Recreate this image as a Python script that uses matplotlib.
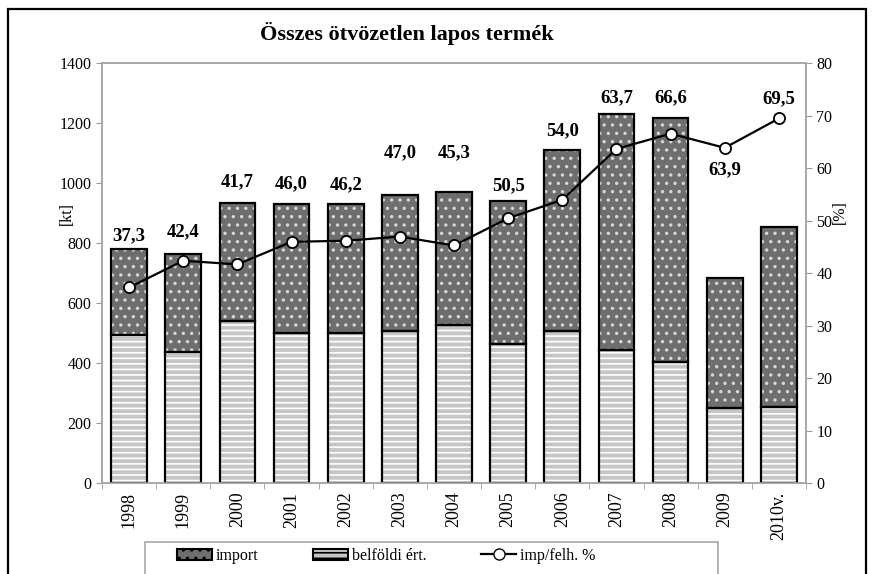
import numpy as np
import matplotlib
matplotlib.use('Agg')
import matplotlib.pyplot as plt
from matplotlib.patches import Rectangle, Patch
from matplotlib.lines import Line2D

plt.rcParams['font.family'] = ['Liberation Serif', 'DejaVu Serif']
plt.rcParams['hatch.linewidth'] = 1.2

years = ['1998', '1999', '2000', '2001', '2002', '2003', '2004',
         '2005', '2006', '2007', '2008', '2009', '2010v.']
belfoldi = [494, 437, 542, 502, 500, 508, 528, 464, 508, 444, 405, 250, 255]
total = [782, 763, 935, 930, 930, 961, 971, 941, 1111, 1230, 1219, 685, 855]
imp_pct = [37.3, 42.4, 41.7, 46.0, 46.2, 47.0, 45.3, 50.5, 54.0, 63.7, 66.6, 63.9, 69.5]
label_off = [3, 10, 9, 9, 8, 24, 22, 5, 8, 6, 8, 10, 8]

imports = [t - b for t, b in zip(total, belfoldi)]
x = np.arange(len(years))

fig = plt.figure(figsize=(8.74, 5.74), dpi=100)
ax = fig.add_axes([0.1167, 0.158, 0.8055, 0.7317])
ax2 = ax.twinx()

w = 0.66
# filled + hatched layer, then black outline on top
ax.bar(x, belfoldi, w, color='#c6c6c6', edgecolor='white', hatch='---', linewidth=0, zorder=2)
ax.bar(x, imports, w, bottom=belfoldi, color='#6e6e6e', edgecolor='#d8d8d8', hatch='..', linewidth=0, zorder=2)
ax.bar(x, belfoldi, w, fill=False, edgecolor='black', linewidth=1.6, zorder=3)
ax.bar(x, imports, w, bottom=belfoldi, fill=False, edgecolor='black', linewidth=1.6, zorder=3)

ax.set_xlim(-0.5, len(years) - 0.5)
ax.set_ylim(0, 1400)
ax.set_yticks(range(0, 1401, 200))
ax.set_xticks(x)
ax.set_xticklabels(years, rotation=90, fontsize=13)
ax.tick_params(axis='y', labelsize=11.5, length=4, color='#999999', direction='out')
ax.tick_params(axis='x', length=0, pad=6)
ax.set_xticks(np.arange(-0.5, len(years), 1), minor=True)
ax.tick_params(axis='x', which='minor', length=4, color='#999999')

ax2.plot(x, imp_pct, color='black', linewidth=1.6, marker='o', markersize=8,
         markerfacecolor='white', markeredgecolor='black', markeredgewidth=1.3, zorder=5)
ax2.set_ylim(0, 80)
ax2.set_yticks(range(0, 81, 10))
ax2.tick_params(axis='y', labelsize=11.5, length=4, color='#999999', direction='out')

for a in (ax, ax2):
    for s in a.spines.values():
        s.set_color('#a8a8a8')
        s.set_linewidth(1.2)
ax.set_zorder(1)
ax2.set_zorder(2)
ax.patch.set_visible(False)

# data labels: above the bar / point, 2009 below its point
for i, p in enumerate(imp_pct):
    y_top = max(total[i], p * 1400 / 80)
    txt = f'{p:.1f}'.replace('.', ',')
    if years[i] == '2009':
        ax.annotate(txt, (x[i], p * 1400 / 80), xytext=(0, -label_off[i]),
                    textcoords='offset points', ha='center', va='top',
                    fontsize=13.5, fontweight='bold', zorder=6)
    else:
        ax.annotate(txt, (x[i], y_top), xytext=(0, label_off[i]),
                    textcoords='offset points', ha='center', va='bottom',
                    fontsize=13.5, fontweight='bold', zorder=6)

fig.text(0.466, 0.942, 'Összes ötvözetlen lapos termék', ha='center', va='center',
         fontsize=16, fontweight='bold')
fig.text(0.076, 0.628, '[kt]', rotation=90, ha='center', va='center', fontsize=11.5)
fig.text(0.961, 0.631, '[%]', rotation=90, ha='center', va='center', fontsize=11.5)

handles = [Patch(facecolor='#6e6e6e', edgecolor='black', hatch='..', linewidth=1.5),
           Patch(facecolor='#c6c6c6', edgecolor='black', hatch='---', linewidth=1.5),
           Line2D([], [], color='black', linewidth=1.6, marker='o', markersize=8,
                  markerfacecolor='white', markeredgecolor='black')]
leg = fig.legend(handles, ['import', 'belföldi ért.', 'imp/felh. %'], ncol=3,
                 loc='center left', bbox_to_anchor=(177 / 874, 1 - 556 / 574), frameon=False,
                 fontsize=11.5, columnspacing=3.4, handlelength=2.2, handletextpad=0.25,
                 borderpad=0, borderaxespad=0)

# legend box is wider than its entries
fig.add_artist(Rectangle((145 / 874, -0.05), 573 / 874, 0.05 + 1 - 542 / 574,
                         transform=fig.transFigure, fill=False, edgecolor='#a8a8a8', linewidth=1.2))
fig.add_artist(Rectangle((8 / 874, -0.05), 858 / 874, 1.05 - 9 / 574, transform=fig.transFigure,
                         fill=False, edgecolor='black', linewidth=1.6))

fig.savefig('out.png', dpi=100)
